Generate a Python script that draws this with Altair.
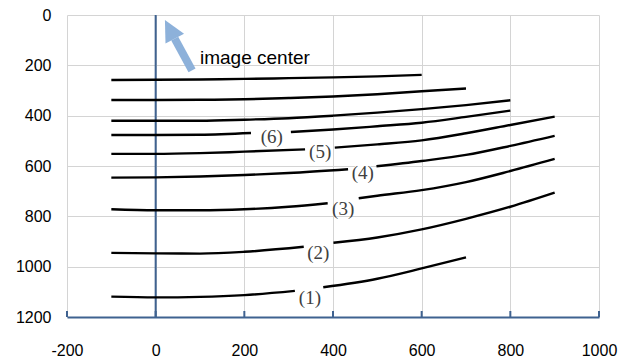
import altair as alt
import pandas as pd

# ---- curve data (x, y) ; labelled curves are split in two segments around the label
c0_s1_x = [-100, 0, 100, 200, 300, 400, 500, 600]
c0_s1_y = [258, 257, 256, 254, 251, 248, 244, 238]

c1_s1_x = [-100, 0, 100, 200, 300, 400, 500, 600, 700]
c1_s1_y = [338, 338, 337, 335, 330, 324, 315, 303, 292]

c2_s1_x = [-100, 0, 100, 200, 300, 400, 500, 600, 700, 800]
c2_s1_y = [420, 420, 420, 416, 410, 400, 388, 374, 358, 339]

c6_s1_x = [-100, 0, 100, 215]
c6_s1_y = [477, 477, 476, 469]
c6_s2_x = [305, 400, 500, 600, 700, 800]
c6_s2_y = [465, 455, 442, 428, 405, 380]

c5_s1_x = [-100, 0, 100, 200, 337]
c5_s1_y = [552, 552, 549, 543, 534]
c5_s2_x = [404, 500, 600, 700, 800, 900]
c5_s2_y = [527, 514, 498, 470, 437, 404]

c4_s1_x = [-100, 0, 100, 200, 300, 434]
c4_s1_y = [646, 645, 642, 636, 628, 613]
c4_s2_x = [498, 600, 700, 800, 900]
c4_s2_y = [601, 580, 556, 520, 480]

c3_s1_x = [-100, 0, 100, 200, 300, 388]
c3_s1_y = [772, 776, 776, 772, 762, 748]
c3_s2_x = [458, 500, 600, 700, 800, 900]
c3_s2_y = [728, 718, 696, 664, 620, 572]

c2b_s1_x = [-100, 0, 100, 200, 334]
c2b_s1_y = [945, 947, 948, 941, 921]
c2b_s2_x = [401, 500, 600, 700, 800, 900]
c2b_s2_y = [905, 884, 852, 810, 762, 706]

c1b_s1_x = [-100, 0, 100, 200, 314]
c1b_s1_y = [1119, 1122, 1120, 1113, 1096]
c1b_s2_x = [378, 500, 600, 700]
c1b_s2_y = [1082, 1048, 1007, 963]

segments = [
    (c0_s1_x, c0_s1_y), (c1_s1_x, c1_s1_y), (c2_s1_x, c2_s1_y),
    (c6_s1_x, c6_s1_y), (c6_s2_x, c6_s2_y),
    (c5_s1_x, c5_s1_y), (c5_s2_x, c5_s2_y),
    (c4_s1_x, c4_s1_y), (c4_s2_x, c4_s2_y),
    (c3_s1_x, c3_s1_y), (c3_s2_x, c3_s2_y),
    (c2b_s1_x, c2b_s1_y), (c2b_s2_x, c2b_s2_y),
    (c1b_s1_x, c1b_s1_y), (c1b_s2_x, c1b_s2_y),
]

# curve labels
label_text = ["(1)", "(2)", "(3)", "(4)", "(5)", "(6)"]
label_x = [348, 367, 423, 467, 371, 262]
label_y = [1126, 945, 770, 626, 543, 484]

# annotation
note_text = ["image center"]
note_x = [100]
note_y = [172]
arrow_shaft_x = [82, 43]
arrow_shaft_y = [220, 94]
arrow_head_x = [32]
arrow_head_y = [57]

x_ticks = [-200, 0, 200, 400, 600, 800, 1000]
y_ticks = [0, 200, 400, 600, 800, 1000, 1200]

rows = []
for i, (xs, ys) in enumerate(segments):
    for j, (xv, yv) in enumerate(zip(xs, ys)):
        rows.append({"x": xv, "y": yv, "seg": i, "order": j})
lines_df = pd.DataFrame(rows)
labels_df = pd.DataFrame({"x": label_x, "y": label_y, "t": label_text})
note_df = pd.DataFrame({"x": note_x, "y": note_y, "t": note_text})
shaft_df = pd.DataFrame({"x": arrow_shaft_x, "y": arrow_shaft_y, "o": [0, 1]})
head_df = pd.DataFrame({"x": arrow_head_x, "y": arrow_head_y})
ticks_df = pd.DataFrame({"x": x_ticks})
zero_df = pd.DataFrame({"x": [0]})

AXIS_BLUE = "#3f6290"
GRID = "#d4d4d4"
FONT = "Liberation Sans"

xscale = alt.Scale(domain=[-200, 1000], nice=False, zero=False)
yscale = alt.Scale(domain=[0, 1200], reverse=True, nice=False, zero=False)

xaxis = alt.Axis(values=x_ticks, grid=True, gridColor=GRID, gridWidth=1,
                 domainColor=AXIS_BLUE, domainWidth=2, ticks=False,
                 labelPadding=25, labelFontSize=16, labelFont=FONT,
                 labelColor="#000000", title=None, labelFlush=False,
                 labelExpr="datum.value + ''")
yaxis = alt.Axis(values=y_ticks, grid=True, gridColor=GRID, gridWidth=1,
                 domain=False, ticks=False, labelPadding=16, labelFontSize=16,
                 labelFont=FONT, labelColor="#000000", title=None,
                 labelFlush=False, labelExpr="datum.value + ''")

X = alt.X("x:Q", scale=xscale, axis=xaxis)
Y = alt.Y("y:Q", scale=yscale, axis=yaxis)

lines = alt.Chart(lines_df).mark_line(color="#000000", strokeWidth=2.4,
                                      interpolate="monotone").encode(
    x=X, y=Y, detail="seg:N", order="order:Q",
)

zero_line = alt.Chart(zero_df).mark_rule(color=AXIS_BLUE, strokeWidth=2).encode(
    x=X, y=alt.value(0), y2=alt.value(302),
)

ticks = alt.Chart(ticks_df).mark_rule(color=AXIS_BLUE, strokeWidth=2).encode(
    x=X, y=alt.value(296), y2=alt.value(302),
)

label_bg = alt.Chart(labels_df).mark_point(
    shape="M-1.3,-1.1L1.3,-1.1L1.3,1.1L-1.3,1.1Z", filled=True,
    color="#ffffff", opacity=1, size=144).encode(x=X, y=Y)

labels = alt.Chart(labels_df).mark_text(
    font="Liberation Serif", fontSize=19, color="#404040").encode(
    x=X, y=Y, text="t:N",
)

shaft = alt.Chart(shaft_df).mark_line(color="#8db1da", strokeWidth=8,
                                      strokeCap="butt").encode(
    x=X, y=Y, order="o:Q",
)

head = alt.Chart(head_df).mark_point(
    shape="M0,-1L1,1L-1,1Z", filled=True, color="#8db1da", opacity=1,
    size=441, angle=332).encode(x=X, y=Y)

note = alt.Chart(note_df).mark_text(
    font=FONT, fontSize=19, align="left", baseline="middle",
    color="#000000").encode(x=X, y=Y, text="t:N")

chart = alt.layer(
    zero_line, ticks, label_bg, lines, labels, shaft, head, note
).properties(
    width=532, height=302,
    autosize=alt.AutoSizeParams(type="none"),
    padding={"left": 67, "top": 15, "right": 26, "bottom": 43},
    background="#ffffff",
).configure_view(stroke=None)

chart.save("out.html", embed_options={"renderer": "svg", "actions": False})
